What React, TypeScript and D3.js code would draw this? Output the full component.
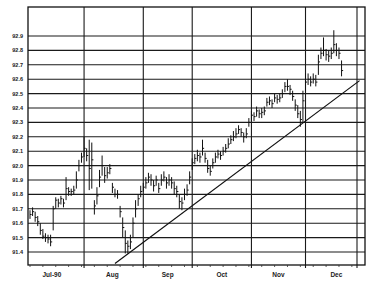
import React from "react";
import * as d3 from "d3";

// Daily bars, trading-day index 0 = 2 Jul 1990
const highs = [
  91.69, 91.71, 91.68, 91.65, 91.6, 91.56, 91.53, 91.52, 91.52, 91.72,
  91.78, 91.77, 91.79, 91.77, 91.92, 91.85, 91.84, 91.86, 91.96, 92.04,
  92.09, 92.2, 92.12, 92.18, 92.16, 91.76, 91.85, 91.97, 92.07, 91.99,
  91.99, 92.01, 91.88, 91.84, 91.83, 91.72, 91.64, 91.55, 91.48, 91.52,
  91.64, 91.76, 91.8, 91.86, 91.88, 91.92, 91.95, 91.94, 91.9, 91.93,
  91.88, 91.94, 91.96, 91.92, 91.94, 91.92, 91.89, 91.86, 91.8, 91.78,
  91.84, 91.87, 91.96, 92.05, 92.08, 92.11, 92.09, 92.18, 92.09, 92.04,
  92.0, 92.05, 92.09, 92.11, 92.1, 92.13, 92.15, 92.19, 92.21, 92.24,
  92.26, 92.28, 92.26, 92.23, 92.26, 92.33, 92.38, 92.37, 92.41, 92.39,
  92.4, 92.41, 92.47, 92.48, 92.46, 92.5, 92.49, 92.5, 92.53, 92.58,
  92.6, 92.56, 92.52, 92.46, 92.42, 92.38, 92.52, 92.64, 92.64, 92.62,
  92.64, 92.63, 92.77, 92.82, 92.89, 92.81, 92.8, 92.82, 92.94, 92.85,
  92.82, 92.73,
];
const lows = [
  91.63, 91.65, 91.61, 91.58, 91.52, 91.49, 91.47, 91.46, 91.44, 91.55,
  91.7, 91.71, 91.73, 91.71, 91.76, 91.79, 91.79, 91.8, 91.84, 91.96,
  92.02, 92.06, 92.03, 91.83, 91.84, 91.66, 91.73, 91.85, 91.93, 91.88,
  91.91, 91.94, 91.81, 91.78, 91.77, 91.64, 91.5, 91.39, 91.39, 91.42,
  91.5, 91.64, 91.72, 91.78, 91.82, 91.84, 91.88, 91.86, 91.82, 91.86,
  91.81, 91.86, 91.89, 91.84, 91.86, 91.84, 91.8, 91.78, 91.7, 91.69,
  91.76, 91.79, 91.87, 91.97, 92.01, 92.03, 92.02, 92.07, 92.02, 91.95,
  91.93, 91.98, 92.02, 92.05, 92.04, 92.07, 92.09, 92.12, 92.15, 92.17,
  92.19, 92.22, 92.2, 92.16, 92.19, 92.27, 92.31, 92.31, 92.34, 92.33,
  92.33, 92.35, 92.41, 92.42, 92.4, 92.44, 92.43, 92.44, 92.47, 92.51,
  92.52, 92.49, 92.45, 92.38, 92.33, 92.27, 92.3, 92.52, 92.56, 92.55,
  92.57, 92.55, 92.63, 92.74, 92.76, 92.73, 92.72, 92.74, 92.78, 92.76,
  92.74, 92.62,
];
const closes = [
  91.66, 91.68, 91.64, 91.61, 91.55, 91.51, 91.5, 91.49, 91.47, 91.7,
  91.76, 91.74, 91.77, 91.74, 91.84, 91.82, 91.82, 91.83, 91.9, 92.0,
  92.06, 92.12, 92.07, 91.98, 92.04, 91.72, 91.79, 91.92, 92.0, 91.93,
  91.95, 91.98, 91.85, 91.8, 91.8, 91.68, 91.57, 91.46, 91.44, 91.47,
  91.6, 91.7, 91.77, 91.82, 91.85, 91.88, 91.92, 91.9, 91.86, 91.9,
  91.84, 91.9, 91.92, 91.88, 91.9, 91.88, 91.84, 91.82, 91.75, 91.74,
  91.8, 91.83, 91.92, 92.02, 92.05, 92.07, 92.06, 92.12, 92.05, 91.98,
  91.96, 92.02, 92.06, 92.08, 92.07, 92.1, 92.12, 92.15, 92.18, 92.2,
  92.22, 92.25, 92.23, 92.2, 92.22, 92.3, 92.35, 92.34, 92.38, 92.36,
  92.37, 92.38, 92.44, 92.45, 92.43, 92.47, 92.46, 92.47, 92.5, 92.55,
  92.55, 92.53, 92.48, 92.42, 92.36, 92.32, 92.45, 92.58, 92.6, 92.58,
  92.6, 92.58, 92.72, 92.78, 92.8, 92.77, 92.76, 92.78, 92.84, 92.8,
  92.78, 92.66,
];

// Month boundaries (trading-day index): Aug, Sep, Oct, Nov, Dec, Jan
const monthStarts = [21, 44, 63, 86, 107, 127];
const monthLabels = ["Jul-90", "Aug", "Sep", "Oct", "Nov", "Dec"];
const monthLabelAt = [8.5, 32, 53.5, 74.5, 96.5, 119];

const priceTicks = [
  91.4, 91.5, 91.6, 91.7, 91.8, 91.9, 92.0, 92.1, 92.2, 92.3, 92.4, 92.5,
  92.6, 92.7, 92.8, 92.9,
];

// Trend line endpoints [index, price]
const trendStart = [33, 91.32];
const trendEnd = [128, 92.59];

export default function App() {
  const W = 373;
  const H = 283;
  const left = 28;
  const right = 365;
  const top = 7;
  const bottom = 265;

  const x = d3.scaleLinear().domain([0, 127]).range([30, 357]);
  const y = d3.scaleLinear().domain([91.4, 92.9]).range([252, 36]);

  const weekTicks = d3.range(0, 130, 5);
  const font = "'Liberation Sans', Arial, sans-serif";

  return (
    <svg
      width={W}
      height={H}
      style={{ position: "absolute", left: 0, top: 0, background: "#fff" }}
    >
      <rect x={0} y={0} width={W} height={H} fill="#fff" />
      {/* horizontal grid */}
      {priceTicks.map((t) => (
        <line
          key={"h" + t}
          x1={left}
          x2={right}
          y1={y(t)}
          y2={y(t)}
          stroke="#1a1a1a"
          strokeWidth={1.1}
        />
      ))}
      {/* vertical grid */}
      {monthStarts.map((m) => (
        <line
          key={"v" + m}
          x1={x(m)}
          x2={x(m)}
          y1={top}
          y2={bottom + 3}
          stroke="#1a1a1a"
          strokeWidth={1.1}
        />
      ))}
      {/* frame */}
      <rect
        x={left}
        y={top}
        width={right - left}
        height={bottom - top}
        fill="none"
        stroke="#111"
        strokeWidth={1.3}
      />
      {/* small ticks on bottom axis */}
      {weekTicks.map((t) => (
        <line
          key={"wt" + t}
          x1={x(t)}
          x2={x(t)}
          y1={bottom}
          y2={bottom + 2}
          stroke="#333"
          strokeWidth={0.8}
        />
      ))}
      {/* y labels */}
      {priceTicks.map((t) => (
        <text
          key={"yl" + t}
          x={23}
          y={y(t) + 2}
          fontSize={5.5}
          fontWeight="bold"
          fontFamily={font}
          textAnchor="end"
          fill="#222"
        >
          {t.toFixed(1)}
        </text>
      ))}
      {/* month labels */}
      {monthLabels.map((m, i) => (
        <text
          key={m}
          x={x(monthLabelAt[i])}
          y={277}
          fontSize={6.5}
          fontWeight="bold"
          fontFamily={font}
          textAnchor="middle"
          fill="#222"
        >
          {m}
        </text>
      ))}
      {/* bars */}
      {closes.map((c, i) => (
        <g key={"b" + i} stroke="#111" strokeWidth={1}>
          <line x1={x(i)} x2={x(i)} y1={y(highs[i])} y2={y(lows[i])} />
          <line x1={x(i)} x2={x(i) + 1.6} y1={y(c)} y2={y(c)} />
        </g>
      ))}
      {/* trend line */}
      <line
        x1={x(trendStart[0])}
        y1={y(trendStart[1])}
        x2={x(trendEnd[0])}
        y2={y(trendEnd[1])}
        stroke="#111"
        strokeWidth={1.2}
      />
    </svg>
  );
}
